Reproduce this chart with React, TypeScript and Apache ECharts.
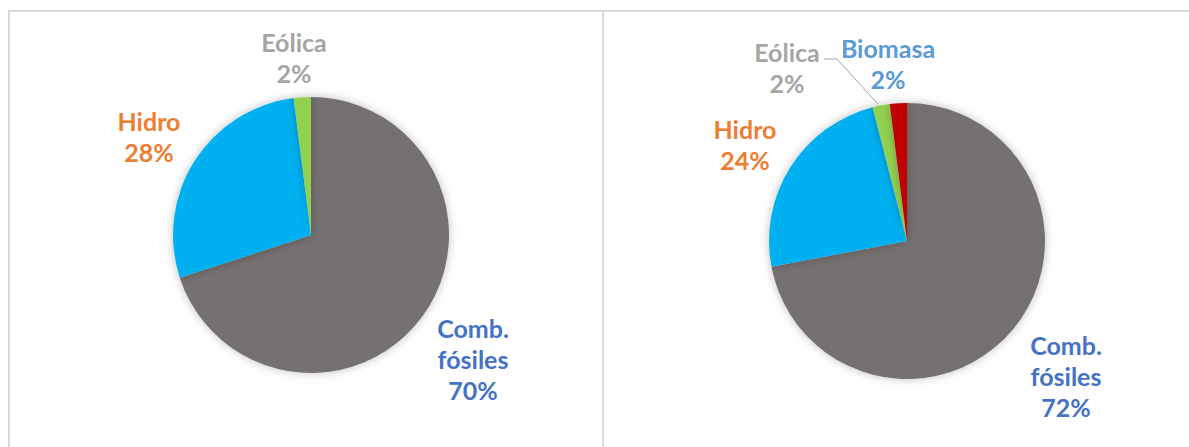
import React, { useEffect, useRef } from "react";
import * as echarts from "echarts";

const leftNames = ["Comb.\nfósiles", "Hidro", "Eólica"];
const leftValues = [70, 28, 2];
const rightNames = ["Comb.\nfósiles", "Hidro", "Eólica", "Biomasa"];
const rightValues = [72, 24, 2, 2];

const sliceColors: Record<string, string> = {
  "Comb.\nfósiles": "#767171",
  Hidro: "#00B0F0",
  "Eólica": "#92D050",
  Biomasa: "#C00000",
};
const labelColors: Record<string, string> = {
  "Comb.\nfósiles": "#4472C4",
  Hidro: "#ED7D31",
  "Eólica": "#A5A5A5",
  Biomasa: "#5B9BD5",
};

// label anchor positions (center of text block) per panel
const leftLabelPos = [
  [473, 359],
  [149, 136],
  [294, 57],
];
const rightLabelPos = [
  [1066, 376],
  [745, 144],
  [787, 67],
  [888, 63],
];

const FONT = "Lato, 'Open Sans', sans-serif";

function makeSeries(names: string[], values: number[], center: number[], r: number, pos: number[][], leaderIdx: number) {
  return {
    type: "pie",
    center,
    radius: r,
    startAngle: 90,
    clockwise: true,
    avoidLabelOverlap: false,
    data: names.map((n, i) => ({
      name: n,
      value: values[i],
      itemStyle: { color: sliceColors[n] },
      label: { color: labelColors[n] },
      labelLine: { show: i === leaderIdx, lineStyle: { color: "#A5A5A5", width: 1 } },
    })),
    itemStyle: {
      borderWidth: 0,
      shadowBlur: 10,
      shadowColor: "rgba(0,0,0,0.25)",
    },
    label: {
      show: true,
      position: "outside",
      formatter: "{b}\n{d}%",
      fontFamily: FONT,
      fontWeight: "bold",
      fontSize: 25,
      lineHeight: 31,
      align: "center",
    },
    labelLine: { show: false },
    labelLayout: (p: any) => {
      const pt = pos[p.dataIndex];
      const out: any = { x: pt[0], y: pt[1], align: "center", verticalAlign: "middle" };
      if (p.dataIndex === leaderIdx) {
        out.labelLinePoints = [
          [878, 104],
          [837, 59],
          [824, 59],
        ];
      }
      return out;
    },
    emphasis: { disabled: true },
  };
}

export default function App() {
  const ref = useRef<HTMLDivElement>(null);
  useEffect(() => {
    if (!ref.current) return;
    const chart = echarts.init(ref.current, undefined, { renderer: "svg" });
    chart.setOption({
      animation: false,
      backgroundColor: "#ffffff",
      graphic: [
        { type: "line", shape: { x1: 8, y1: 11, x2: 1189, y2: 11 }, style: { stroke: "#D9D9D9", lineWidth: 2 } },
        { type: "line", shape: { x1: 9, y1: 11, x2: 9, y2: 447 }, style: { stroke: "#D9D9D9", lineWidth: 2 } },
        { type: "line", shape: { x1: 603, y1: 11, x2: 603, y2: 447 }, style: { stroke: "#D9D9D9", lineWidth: 2 } },
      ],
      series: [
        makeSeries(leftNames, leftValues, [311, 235], 138, leftLabelPos, -1),
        makeSeries(rightNames, rightValues, [907, 241], 138, rightLabelPos, 2),
      ],
    });
    return () => chart.dispose();
  }, []);
  return (
    <div
      ref={ref}
      style={{ position: "fixed", left: 0, top: 0, width: 1189, height: 447 }}
    />
  );
}
